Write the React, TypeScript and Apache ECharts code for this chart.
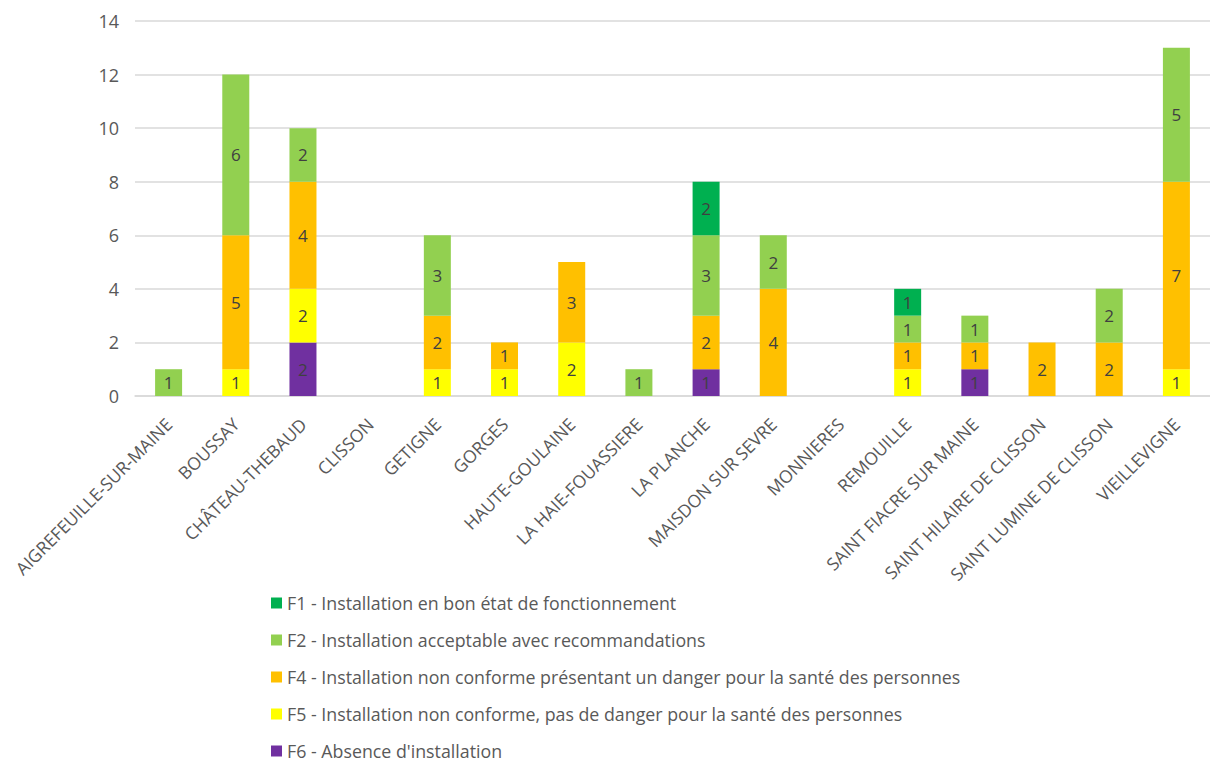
import React, { useEffect, useRef } from "react";
import * as echarts from "echarts";

const categories = [
  "AIGREFEUILLE-SUR-MAINE",
  "BOUSSAY",
  "CHÂTEAU-THEBAUD",
  "CLISSON",
  "GETIGNE",
  "GORGES",
  "HAUTE-GOULAINE",
  "LA HAIE-FOUASSIERE",
  "LA PLANCHE",
  "MAISDON SUR SEVRE",
  "MONNIERES",
  "REMOUILLE",
  "SAINT FIACRE SUR MAINE",
  "SAINT HILAIRE DE CLISSON",
  "SAINT LUMINE DE CLISSON",
  "VIEILLEVIGNE",
];

const f6 = [null, null, 2, null, null, null, null, null, 1, null, null, null, 1, null, null, null];
const f5 = [null, 1, 2, null, 1, 1, 2, null, null, null, null, 1, null, null, null, 1];
const f4 = [null, 5, 4, null, 2, 1, 3, null, 2, 4, null, 1, 1, 2, 2, 7];
const f2 = [1, 6, 2, null, 3, null, null, 1, 3, 2, null, 1, 1, null, 2, 5];
const f1 = [null, null, null, null, null, null, null, null, 2, null, null, 1, null, null, null, null];

const seriesNames = [
  "F1 - Installation en bon état de fonctionnement",
  "F2 - Installation acceptable avec recommandations",
  "F4 - Installation non conforme présentant un danger pour la santé des personnes",
  "F5 - Installation non conforme, pas de danger pour la santé des personnes",
  "F6 - Absence d'installation",
];
const colors = ["#00B050", "#92D050", "#FFC000", "#FFFF00", "#7030A0"];

const yTicks = { min: 0, max: 14, interval: 2 };

const FONT = "'Open Sans', 'Noto Sans', sans-serif";

export default function App() {
  const ref = useRef<HTMLDivElement>(null);
  useEffect(() => {
    if (!ref.current) return;
    const chart = echarts.init(ref.current, null, { renderer: "svg" });
    const stackData = [f6, f5, f4, f2, f1];
    const stackNames = [seriesNames[4], seriesNames[3], seriesNames[2], seriesNames[1], seriesNames[0]];
    const stackColors = [colors[4], colors[3], colors[2], colors[1], colors[0]];
    chart.setOption({
      animation: false,
      textStyle: { fontFamily: FONT },
      grid: { left: 135, right: -13, top: 21, bottom: 369, containLabel: false },
      legend: {
        orient: "vertical",
        left: 271,
        top: 594,
        height: 180,
        padding: 0,
        itemWidth: 11,
        itemHeight: 11,
        itemGap: 19,
        icon: "rect",
        data: seriesNames,
        textStyle: { fontFamily: FONT, fontSize: 17.8, lineHeight: 18, color: "#595959" },
      },
      xAxis: {
        type: "category",
        data: categories,
        axisTick: { show: false },
        axisLine: { show: true, lineStyle: { color: "#d9d9d9", width: 1.5 } },
        axisLabel: {
          rotate: 45,
          interval: 0,
          fontFamily: FONT,
          fontSize: 17.5,
          color: "#595959",
          margin: 25,
        },
      },
      yAxis: {
        type: "value",
        min: yTicks.min,
        max: yTicks.max,
        interval: yTicks.interval,
        axisLine: { show: false },
        axisTick: { show: false },
        splitLine: { lineStyle: { color: "#d9d9d9", width: 1.5 } },
        axisLabel: { fontFamily: FONT, fontSize: 18, color: "#595959", margin: 16 },
      },
      series: stackData.map((d, i) => ({
        name: stackNames[i],
        type: "bar",
        stack: "total",
        data: d,
        barWidth: 27,
        itemStyle: { color: stackColors[i] },
        label: {
          show: true,
          position: "inside",
          fontFamily: FONT,
          fontSize: 17,
          color: "#404040",
        },
      })),
    });
    return () => chart.dispose();
  }, []);
  return (
    <div
      ref={ref}
      style={{ position: "absolute", left: 0, top: 0, width: 1210, height: 765, background: "#fff" }}
    />
  );
}
